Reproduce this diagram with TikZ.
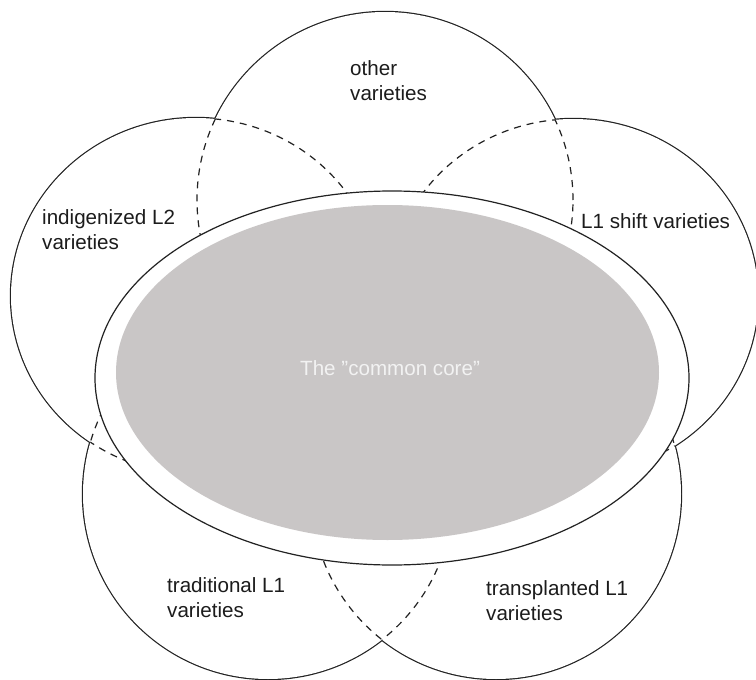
\documentclass[tikz,border=0pt]{standalone}
\usepackage{fontspec}
\setmainfont{Liberation Sans}
\definecolor{inkline}{RGB}{34,34,34}
\definecolor{inktext}{RGB}{28,28,28}
\definecolor{coregrey}{RGB}{201,198,198}
\definecolor{coretext}{RGB}{242,242,242}
\begin{document}
\begin{tikzpicture}[x=1pt,y=-1pt,
  rim/.style={draw=inkline, line width=2.4pt},
  hidden/.style={draw=inkline, line width=1.2pt, dash pattern=on 7pt off 6pt},
  caption/.style={font=\fontsize{20.6}{25}\selectfont, text=inktext, inner sep=0pt,
                  anchor=base west, align=left},
]
\useasboundingbox (0,0) rectangle (756,680);

% centres of the five petals
\coordinate (T)  at (385,200);
\coordinate (L)  at (196,296);
\coordinate (R)  at (573,297);
\coordinate (BL) at (268,494);
\coordinate (BR) at (496,494);
\def\petals{T/188pt/188pt, L/185pt/178pt, R/185pt/178pt, BL/185pt/185pt, BR/185pt/185pt}

% outer rims: doubled width, the white interiors then hide the inner half
\foreach \pc/\pa/\pb in \petals
  \draw[rim] (\pc) ellipse[x radius=\pa, y radius=\pb];
\foreach \pc/\pa/\pb in \petals
  \fill[white] (\pc) ellipse[x radius=\pa, y radius=\pb];

% rims running inside a neighbouring petal are dashed
\foreach \pc/\pa/\pb in \petals {
  \foreach \qc/\qa/\qb in \petals {
    \ifx\pc\qc\else
      \begin{scope}
        \clip (\qc) ellipse[x radius=\qa, y radius=\qb];
        \draw[hidden] (\pc) ellipse[x radius=\pa, y radius=\pb];
      \end{scope}
    \fi
  }
}

% the shared core
\draw[draw=inkline, line width=1.2pt, fill=white] (392,378) ellipse[x radius=297pt, y radius=187pt];
\fill[coregrey] (387.5,372.5) ellipse[x radius=271.5pt, y radius=167.5pt];

% labels (two-line labels are placed by the baseline of their last line)
\node[caption] (other)  at (350,100) {other\\varieties};
\node[caption] (indig)  at (42,249)  {indigenized L2\\varieties};
\node[caption] (shift)  at (581,228) {L1 shift varieties};
\node[caption] (trad)   at (167,617) {traditional L1\\varieties};
\node[caption] (transp) at (486,620) {transplanted L1\\varieties};
\node[caption, text=coretext] (core) at (300,375) {The "common core"};
\end{tikzpicture}
\end{document}
